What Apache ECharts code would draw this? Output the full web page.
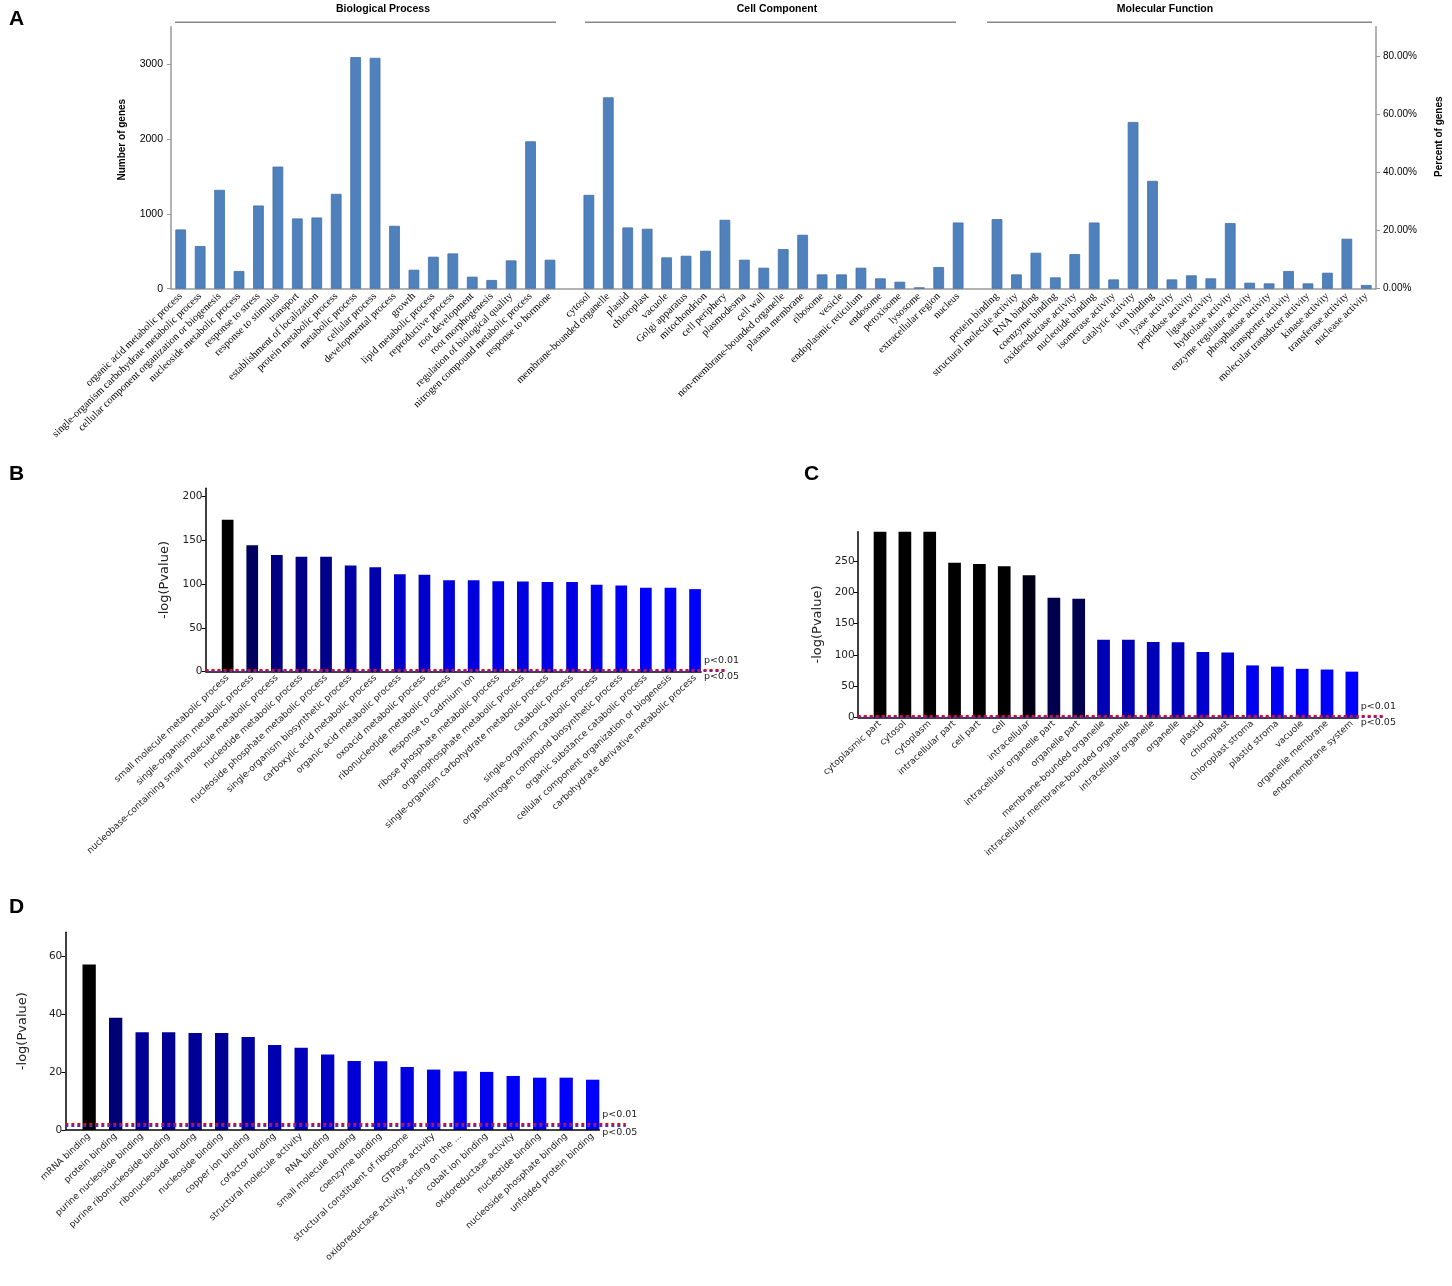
<!DOCTYPE html>
<html>
<head>
<meta charset="utf-8">
<script src="https://cdn.jsdelivr.net/npm/echarts@6/dist/echarts.min.js"></script>
<style>
  html, body { margin: 0; padding: 0; background: #fff; }
  #chart { width: 1452px; height: 1286px; }
</style>
</head>
<body>
<div id="chart"></div>
<script>
// ---- A: GO classification (number of genes) ----
const bpNames = ['organic acid metabolic process', 'single-organism carbohydrate metabolic process',
  'cellular component organization or biogenesis', 'nucleoside metabolic process', 'response to stress',
  'response to stimulus', 'transport', 'establishment of localization', 'protein metabolic process',
  'metabolic process', 'cellular process', 'developmental process', 'growth', 'lipid metabolic process',
  'reproductive process', 'root development', 'root morphogenesis', 'regulation of biological quality',
  'nitrogen compound metabolic process', 'response to hormone'];
const bpCounts = [791, 569, 1320, 236, 1111, 1631, 938, 951, 1267, 3093, 3084, 840, 253, 427, 471, 160, 116, 378, 1969, 387];

const ccNames = ['cytosol', 'membrane-bounded organelle', 'plastid', 'chloroplast', 'vacuole', 'Golgi apparatus',
  'mitochondrion', 'cell periphery', 'plasmodesma', 'cell wall', 'non-membrane-bounded organelle',
  'plasma membrane', 'ribosome', 'vesicle', 'endoplasmic reticulum', 'endosome', 'peroxisome', 'lysosome',
  'extracellular region', 'nucleus'];
const ccCounts = [1253, 2556, 818, 800, 418, 440, 507, 920, 387, 280, 529, 720, 191, 191, 280, 138, 93, 18, 289, 884];

const mfNames = ['protein binding', 'structural molecule activity', 'RNA binding', 'coenzyme binding',
  'oxidoreductase activity', 'nucleotide binding', 'isomerase activity', 'catalytic activity', 'ion binding',
  'lyase activity', 'peptidase activity', 'ligase activity', 'hydrolase activity', 'enzyme regulator activity',
  'phosphatase activity', 'transporter activity', 'molecular transducer activity', 'kinase activity',
  'transferase activity', 'nuclease activity'];
const mfCounts = [929, 191, 480, 151, 462, 884, 124, 2227, 1440, 124, 178, 138, 876, 80, 71, 236, 71, 213, 667, 49];

const countTicks = [0, 1000, 2000, 3000];
const percentTicks = [0, 20, 40, 60, 80];

// ---- B: enriched biological process, -log(Pvalue) ----
const bNames = ['small molecule metabolic process', 'single-organism metabolic process',
  'nucleobase-containing small molecule metabolic process', 'nucleotide metabolic process',
  'nucleoside phosphate metabolic process', 'single-organism biosynthetic process',
  'carboxylic acid metabolic process', 'organic acid metabolic process', 'oxoacid metabolic process',
  'ribonucleotide metabolic process', 'response to cadmium ion', 'ribose phosphate metabolic process',
  'organophosphate metabolic process', 'single-organism carbohydrate metabolic process', 'catabolic process',
  'single-organism catabolic process', 'organonitrogen compound biosynthetic process',
  'organic substance catabolic process', 'cellular component organization or biogenesis',
  'carbohydrate derivative metabolic process'];
const bValues = [173, 144, 133, 131, 131, 121, 119, 111, 110.5, 104, 104, 103, 102.6, 102, 102, 99, 98, 95.5, 95.5, 94];
const bTicks = [0, 50, 100, 150, 200];

// ---- C: enriched cell component ----
const cNames = ['cytoplasmic part', 'cytosol', 'cytoplasm', 'intracellular part', 'cell part', 'cell',
  'intracellular', 'intracellular organelle part', 'organelle part', 'membrane-bounded organelle',
  'intracellular membrane-bounded organelle', 'intracellular organelle', 'organelle', 'plastid',
  'chloroplast', 'chloroplast stroma', 'plastid stroma', 'vacuole', 'organelle membrane', 'endomembrane system'];
const cValues = [297, 297, 297, 247, 245, 241.5, 227, 191, 189.5, 124, 124, 120.5, 120, 104.6, 103.5, 83, 81, 77.5, 76.4, 73];
const cTicks = [0, 50, 100, 150, 200, 250];

// ---- D: enriched molecular function ----
const dNames = ['mRNA binding', 'protein binding', 'purine nucleoside binding', 'purine ribonucleoside binding',
  'ribonucleoside binding', 'nucleoside binding', 'copper ion binding', 'cofactor binding',
  'structural molecule activity', 'RNA binding', 'small molecule binding', 'coenzyme binding',
  'structural constituent of ribosome', 'GTPase activity', 'oxidoreductase activity, acting on the ...',
  'cobalt ion binding', 'oxidoreductase activity', 'nucleotide binding', 'nucleoside phosphate binding',
  'unfolded protein binding'];
const dValues = [57.3, 38.8, 33.8, 33.8, 33.6, 33.6, 32.2, 29.4, 28.5, 26.1, 23.9, 23.8, 21.8, 20.9, 20.3, 20.1, 18.7, 18.1, 18.1, 17.4];
const dTicks = [0, 20, 40, 60];

// significance thresholds, -log10(p)
const thrLabels = ['p<0.01', 'p<0.05'];
const thrValues = [2, 1.301];

const catA = [...bpNames, '', ...ccNames, '', ...mfNames];
const valA = [...bpCounts, '-', ...ccCounts, '-', ...mfCounts];

const X_MIN = -0.9, X_MAX = 20.25, AXIS_END = 19.27, P_LABEL_X = 19.36;
const sans = 'DejaVu Sans';
const calib = 'Liberation Sans';

function enrichX(grid, names) {
  return {
    type: 'value', gridIndex: grid, min: X_MIN, max: X_MAX,
    axisLine: { show: false, onZero: false }, axisTick: { show: false }, splitLine: { show: false },
    axisLabel: {
      customValues: names.map((n, i) => i),
      formatter: v => names[Math.round(v)] || '',
      rotate: 43, fontSize: 9, fontFamily: sans, color: '#222', margin: 5
    }
  };
}

function enrichY(grid, max, ticks, gap) {
  return {
    type: 'value', gridIndex: grid, min: 0, max: max,
    axisLine: { show: true, onZero: false, lineStyle: { color: '#000', width: 1.5 } },
    axisTick: { show: true, length: 4, customValues: ticks, lineStyle: { color: '#000', width: 1 } },
    axisLabel: { customValues: ticks, formatter: v => String(v), fontSize: 10.5, fontFamily: sans, color: '#222', margin: 3 },
    splitLine: { show: false },
    name: '-log(Pvalue)', nameLocation: 'middle', nameGap: gap,
    nameTextStyle: { fontSize: 13, fontFamily: sans, color: '#222' }
  };
}

function pLines() {
  return {
    symbol: 'none', silent: true, animation: false,
    label: { show: false },
    data: [
      [{ coord: [X_MIN, 0], lineStyle: { color: '#000', type: 'solid', width: 1.5 } }, { coord: [AXIS_END, 0] }],
      { yAxis: thrValues[1], lineStyle: { color: '#3030ff', type: [3, 3], width: 2 } },
      { yAxis: thrValues[0], lineStyle: { color: '#ff0000', type: [3, 3], width: 2 } }
    ]
  };
}

function enrichSeries(grid, values, barW) {
  return {
    type: 'bar', xAxisIndex: grid, yAxisIndex: grid + 1,
    data: values.map((v, i) => [i, v]),
    barWidth: barW, animation: false,
    markLine: pLines()
  };
}

const chart = echarts.init(document.getElementById('chart'));

const option = {
  animation: false,
  backgroundColor: '#fff',
  grid: [
    { left: 171, top: 26.7, width: 1205.7, height: 262 },
    { left: 205.5, top: 488.3, width: 520.3, height: 183.4 },
    { left: 857.7, top: 531.7, width: 525.2, height: 185.6 },
    { left: 65.3, top: 932.3, width: 560.5, height: 197.7 }
  ],
  xAxis: [
    {
      type: 'category', gridIndex: 0, data: catA,
      axisLine: { lineStyle: { color: '#999', width: 1.5 } },
      axisTick: { show: false },
      axisLabel: { interval: 0, rotate: 44, fontSize: 10.5, fontFamily: 'Liberation Serif', color: '#000', margin: 6 }
    },
    enrichX(1, bNames),
    enrichX(2, cNames),
    enrichX(3, dNames)
  ],
  yAxis: [
    {
      type: 'value', gridIndex: 0, min: 0, max: 3500, position: 'left',
      axisLine: { show: true, lineStyle: { color: '#999', width: 1.5 } },
      axisTick: { show: true, length: 4, customValues: countTicks, lineStyle: { color: '#999' } },
      axisLabel: { customValues: countTicks, formatter: v => String(v), fontSize: 10.5, fontFamily: calib, color: '#000', margin: 8 },
      splitLine: { show: false },
      name: 'Number of genes', nameLocation: 'middle', nameGap: 44,
      nameTextStyle: { fontSize: 10, fontWeight: 'bold', fontFamily: calib, color: '#000', padding: [0, 0, 0, 36] }
    },
    {
      type: 'value', gridIndex: 0, min: 0, max: 90, position: 'right',
      axisLine: { show: true, lineStyle: { color: '#999', width: 1.5 } },
      axisTick: { show: true, length: 4, customValues: percentTicks, lineStyle: { color: '#999' } },
      axisLabel: { customValues: percentTicks, formatter: v => v.toFixed(2) + '%', fontSize: 10, fontFamily: calib, color: '#000', margin: 7 },
      splitLine: { show: false },
      name: 'Percent of genes', nameLocation: 'middle', nameGap: 58, nameRotate: 90,
      nameTextStyle: { fontSize: 10, fontWeight: 'bold', fontFamily: calib, color: '#000', padding: [0, 0, 0, 42] }
    },
    enrichY(1, 208.8, bTicks, 34),
    enrichY(2, 296.8, cTicks, 34),
    enrichY(3, 68.4, dTicks, 36)
  ],
  visualMap: [
    { type: 'continuous', show: false, seriesIndex: 1, dimension: 1, min: 94, max: 173, inRange: { color: ['#0000ff', '#000000'] } },
    { type: 'continuous', show: false, seriesIndex: 2, dimension: 1, min: 73, max: 241, inRange: { color: ['#0000ff', '#000000'] } },
    { type: 'continuous', show: false, seriesIndex: 3, dimension: 1, min: 17.4, max: 57.3, inRange: { color: ['#0000ff', '#000000'] } }
  ],
  series: [
    {
      type: 'bar', xAxisIndex: 0, yAxisIndex: 0, data: valA, barWidth: '55%',
      itemStyle: { color: '#4f81bd', borderColor: '#4470a8', borderWidth: 0.8 }
    },
    enrichSeries(1, bValues, 11.7),
    enrichSeries(2, cValues, 12.7),
    enrichSeries(3, dValues, 13.3)
  ],
  graphic: [
    { type: 'text', x: 9, y: 9, style: { text: 'A', font: 'bold 21px Liberation Sans', fill: '#000' } },
    { type: 'text', x: 9, y: 464, style: { text: 'B', font: 'bold 21px Liberation Sans', fill: '#000' } },
    { type: 'text', x: 804, y: 464, style: { text: 'C', font: 'bold 21px Liberation Sans', fill: '#000' } },
    { type: 'text', x: 9, y: 897, style: { text: 'D', font: 'bold 21px Liberation Sans', fill: '#000' } },
    // group headers of panel A
    { type: 'text', x: 383, y: 9.3, style: { text: 'Biological Process', font: 'bold 10.5px Liberation Sans', fill: '#000', align: 'center', verticalAlign: 'middle', textAlign: 'center', textVerticalAlign: 'middle' } },
    { type: 'text', x: 777, y: 9.3, style: { text: 'Cell Component', font: 'bold 10.5px Liberation Sans', fill: '#000', align: 'center', verticalAlign: 'middle', textAlign: 'center', textVerticalAlign: 'middle' } },
    { type: 'text', x: 1165, y: 9.3, style: { text: 'Molecular Function', font: 'bold 10.5px Liberation Sans', fill: '#000', align: 'center', verticalAlign: 'middle', textAlign: 'center', textVerticalAlign: 'middle' } },
    { type: 'line', shape: { x1: 175, y1: 22.3, x2: 556, y2: 22.3 }, style: { stroke: '#888', lineWidth: 1.5 } },
    { type: 'line', shape: { x1: 585, y1: 22.3, x2: 956, y2: 22.3 }, style: { stroke: '#888', lineWidth: 1.5 } },
    { type: 'line', shape: { x1: 987, y1: 22.3, x2: 1372, y2: 22.3 }, style: { stroke: '#888', lineWidth: 1.5 } }
  ]
};

chart.setOption(option);

// threshold labels next to the dashed lines
const pText = [];
[1, 2, 3].forEach(g => {
  const a = chart.convertToPixel({ gridIndex: g }, [P_LABEL_X, thrValues[0]]);
  const b = chart.convertToPixel({ gridIndex: g }, [P_LABEL_X, thrValues[1]]);
  pText.push({ type: 'text', x: a[0], y: a[1] - 9.5,
    style: { text: thrLabels[0], font: '9.5px DejaVu Sans', fill: '#222', verticalAlign: 'middle', textVerticalAlign: 'middle' } });
  pText.push({ type: 'text', x: b[0], y: b[1] + 6,
    style: { text: thrLabels[1], font: '9.5px DejaVu Sans', fill: '#222', verticalAlign: 'middle', textVerticalAlign: 'middle' } });
});
chart.setOption({ graphic: option.graphic.concat(pText) });
</script>
</body>
</html>
